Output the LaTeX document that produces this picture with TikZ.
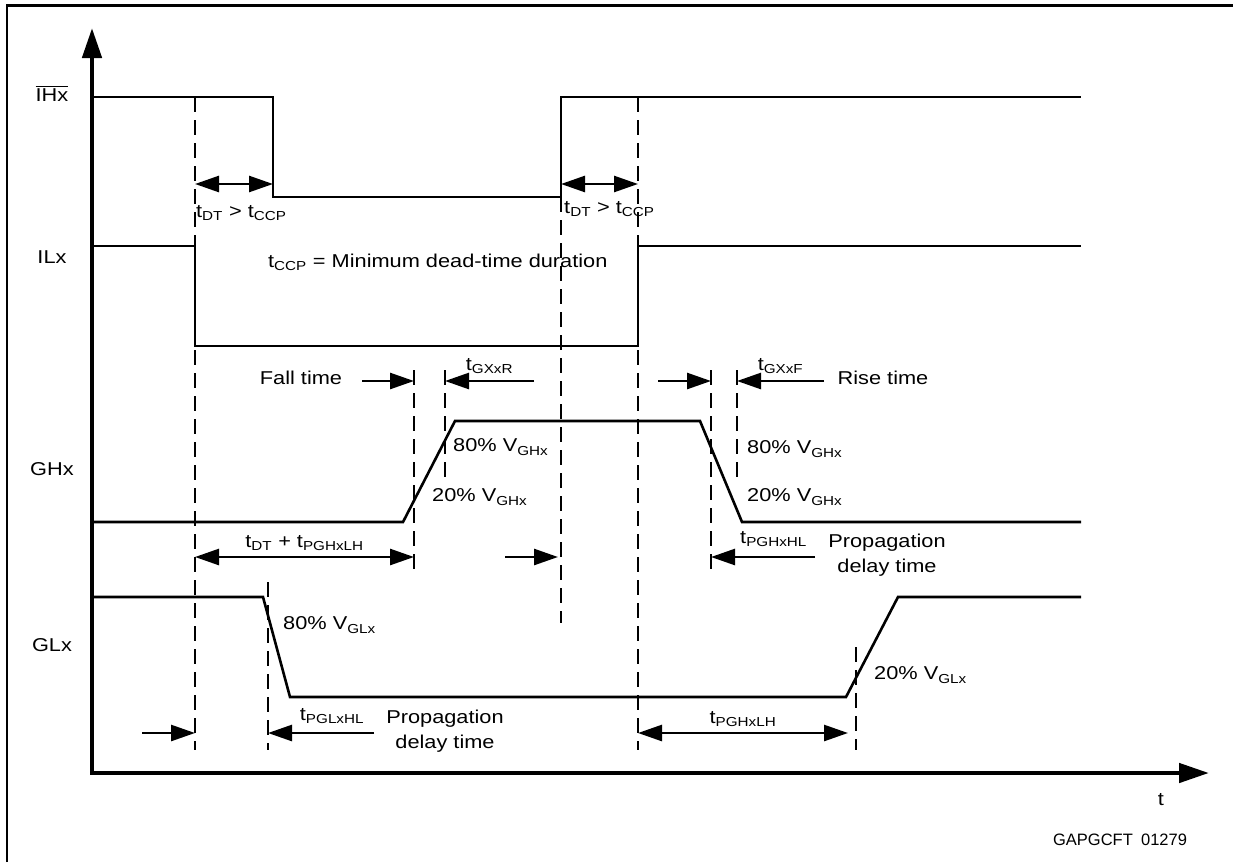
\documentclass[tikz,border=0pt]{standalone}
\usepackage{amsmath}
\usepackage{fontspec}
\setmainfont{Liberation Sans}[FakeStretch=1.17]
\newfontfamily\figcodefont{Liberation Sans}
\usetikzlibrary{arrows.meta}
\tikzset{
    sig/.style={line width=2.6pt,line join=miter},
    guide/.style={line width=1.3pt,dash pattern=on 15pt off 8pt},
    pointer/.style={line width=2.6pt,-{Triangle[length=24pt,width=16pt]}},
    span/.style={line width=2.6pt,{Triangle[length=24pt,width=16pt]}-{Triangle[length=24pt,width=16pt]}},
    axis/.style={line width=4.6pt,{Triangle[length=30pt,width=19pt]}-{Triangle[length=30pt,width=19pt]}},
    lbl/.style={font=\fontsize{18.6}{25}\selectfont,inner sep=0pt},
}

\begin{document}
\begin{tikzpicture}[x=1pt,y=-1pt,every node/.append style={lbl}]
    \useasboundingbox (0,0) rectangle (1233,862);
    \draw[line width=2.6pt] (7,862) |- (1233,5.5);
    % axes
    \coordinate (O) at (92,773);
    \coordinate (ytop) at (92,28);
    \coordinate (tend) at (1209,773);
    \draw[axis] (ytop) -- (O) -- (tend);
    \node (tlab) at (1161,800) {t};
    \node[font=\figcodefont\fontsize{16.5}{18}\selectfont] (figid) at (1120,840) {GAPGCFT\enspace 01279};
    % signal names
    \foreach \y/\s/\n in {93/{$\overline{\text{IHx}}$}/ih,257/ILx/il,469/GHx/gh,645/GLx/gl}
        \node (\n) at (52,\y) {\s};
    % waveforms
    \draw[sig] (92,97) -| (273,197) -| (561,97) -- (1081,97);
    \draw[sig] (92,246) -| (195,346) -| (638,246) -- (1081,246);
    \draw[sig] (92,522) -- (403,522) -- (455,421) -- (700,421) -- (742,522) -- (1081,522);
    \draw[sig] (92,597) -- (263,597) -- (290,697) -- (846,697) -- (898,597) -- (1081,597);
    % time marks
    \foreach \x/\a/\b in {195/97/750,268/582/750,414/370/572,445/370/478,561/197/623,
                          638/97/750,711/370/572,737/370/478,856/647/750}
        \draw[guide] (\x,\a) -- (\x,\b);
    % dead time
    \draw[span] (195,184) -- (273,184);
    \draw[span] (561,184) -- (638,184);
    \node[anchor=west] (dta) at (196,213) {t\textsubscript{DT} > t\textsubscript{CCP}};
    \node[anchor=west] (dtb) at (564,209) {t\textsubscript{DT} > t\textsubscript{CCP}};
    \node[anchor=west] (ccp) at (268,262) {t\textsubscript{CCP} = Minimum dead-time duration};
    % GHx edges
    \node (fall) at (301,378) {Fall time};
    \draw[pointer] (362,381) -- (414,381);
    \draw[pointer] (534,381) -- node[above=6pt] (gxr) {t\textsubscript{GXxR}} (445,381);
    \draw[pointer] (658,381) -- (711,381);
    \draw[pointer] (824,381) -- node[above=6pt] (gxf) {t\textsubscript{GXxF}} (737,381);
    \node (rise) at (883,378) {Rise time};
    \node[anchor=west] (h80a) at (453,447) {80\% V\textsubscript{GHx}};
    \node[anchor=west] (h20a) at (432,497) {20\% V\textsubscript{GHx}};
    \node[anchor=west] (h80b) at (747,449) {80\% V\textsubscript{GHx}};
    \node[anchor=west] (h20b) at (747,497) {20\% V\textsubscript{GHx}};
    \draw[span] (195,557) -- node[above=5pt] (dtpg) {t\textsubscript{DT} + t\textsubscript{PGHxLH}} (414,557);
    \draw[pointer] (505,557) -- (558,557);
    \draw[pointer] (815,557) -- (711,557);
    \node[anchor=west] (pghl) at (740,539) {t\textsubscript{PGHxHL}};
    \node[align=center] (propa) at (887,555) {Propagation\\delay time};
    % GLx edges
    \node[anchor=west] (l80) at (283,625) {80\% V\textsubscript{GLx}};
    \node[anchor=west] (l20) at (874,675) {20\% V\textsubscript{GLx}};
    \draw[pointer] (142,733) -- (195,733);
    \draw[pointer] (374,733) -- (268,733);
    \node (pglhl) at (332,716) {t\textsubscript{PGLxHL}};
    \node[align=center] (propb) at (445,731) {Propagation\\delay time};
    \draw[span] (638,733) -- node[above=5pt] (pghlh) {t\textsubscript{PGHxLH}} (848,733);
\end{tikzpicture}
\end{document}
